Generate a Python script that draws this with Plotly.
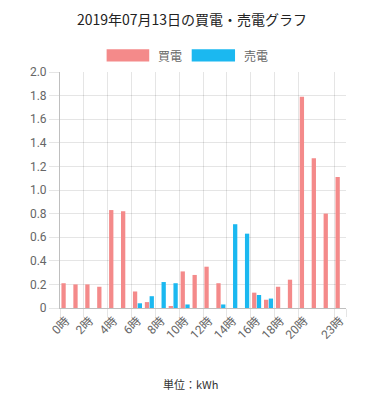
import plotly.graph_objects as go

hours = [f"{h}時" for h in range(24)]
buy = [0.21, 0.20, 0.20, 0.18, 0.83, 0.82, 0.14, 0.05, 0.00, 0.01, 0.31, 0.28,
       0.35, 0.21, 0.00, 0.00, 0.13, 0.07, 0.18, 0.24, 1.79, 1.27, 0.80, 1.11]
sell = [0.00, 0.00, 0.00, 0.00, 0.00, 0.00, 0.04, 0.10, 0.22, 0.21, 0.03, 0.00,
        0.00, 0.03, 0.71, 0.63, 0.11, 0.08, 0.00, 0.00, 0.00, 0.00, 0.00, 0.00]
x_tick_labels = ["0時", "2時", "4時", "6時", "8時", "10時", "12時", "14時", "16時", "18時", "20時", "23時"]
y_tick_vals = [0, 0.2, 0.4, 0.6, 0.8, 1.0, 1.2, 1.4, 1.6, 1.8, 2.0]
y_tick_text = ["0", "0.2", "0.4", "0.6", "0.8", "1.0", "1.2", "1.4", "1.6", "1.8", "2.0"]

RED = "#f48a8a"
BLUE = "#1bb8f0"
FONT = "Roboto, Noto Sans CJK JP, sans-serif"
CJK = "Noto Sans CJK JP, sans-serif"

fig = go.Figure()
fig.add_trace(go.Bar(x=hours, y=buy, name="買電", marker=dict(color=RED, line=dict(width=0))))
fig.add_trace(go.Bar(x=hours, y=sell, name="売電", marker=dict(color=BLUE, line=dict(width=0))))

shapes = [
    dict(type="rect", xref="paper", yref="paper", x0=0.163, x1=0.312, y0=1.044, y1=1.096,
         fillcolor=RED, line=dict(width=0)),
    dict(type="rect", xref="paper", yref="paper", x0=0.4605, x1=0.612, y0=1.044, y1=1.096,
         fillcolor=BLUE, line=dict(width=0)),
]
annotations = [
    dict(text="買電", xref="paper", yref="paper", x=0.337, y=1.07, xanchor="left", yanchor="middle",
         showarrow=False, font=dict(family=CJK, size=12, color="#666")),
    dict(text="売電", xref="paper", yref="paper", x=0.635, y=1.07, xanchor="left", yanchor="middle",
         showarrow=False, font=dict(family=CJK, size=12, color="#666")),
    dict(text="単位：kWh", xref="paper", yref="paper", x=0.458, y=-0.322, xanchor="center", yanchor="middle",
         showarrow=False, font=dict(family=CJK, size=11, color="#333")),
]

fig.update_layout(
    width=384, height=400,
    margin=dict(l=60, r=38, t=72, b=92),
    paper_bgcolor="white", plot_bgcolor="white",
    barmode="group", bargap=0.2, bargroupgap=0.1,
    showlegend=False,
    title=dict(text="2019年07月13日の買電・売電グラフ", x=0.5, xanchor="center",
               y=0.95, yanchor="middle", yref="container",
               font=dict(family=CJK, size=14, color="#222")),
    shapes=shapes, annotations=annotations,
    xaxis=dict(type="category", tickson="boundaries", tickmode="array", tickvals=x_tick_labels,
               ticktext=x_tick_labels, tickangle=-45, showgrid=True, gridcolor="rgba(0,0,0,0.1)",
               ticks="outside", ticklen=8, tickcolor="rgba(0,0,0,0.1)",
               showline=True, linecolor="rgba(0,0,0,0.25)", linewidth=1,
               tickfont=dict(family=FONT, size=12, color="#666"), fixedrange=True),
    yaxis=dict(range=[0, 2.0], tickmode="array", tickvals=y_tick_vals, ticktext=y_tick_text,
               showgrid=True, gridcolor="rgba(0,0,0,0.1)", zeroline=False,
               ticks="outside", ticklen=10, tickcolor="rgba(0,0,0,0.1)",
               showline=True, linecolor="rgba(0,0,0,0.25)", linewidth=1,
               tickfont=dict(family=FONT, size=12, color="#666"), fixedrange=True),
)

fig.write_html("out.html", config={"displayModeBar": False},
               post_script="document.body.style.margin='0';document.body.style.padding='0';")
